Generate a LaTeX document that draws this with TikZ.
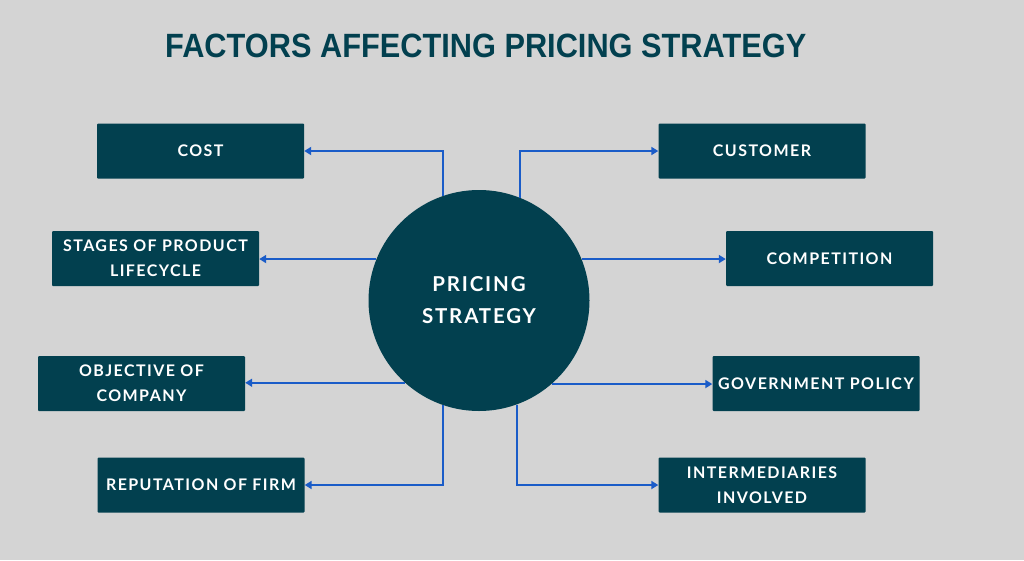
\documentclass[tikz,border=0pt]{standalone}
\usepackage{fontspec}
\usepackage{graphicx}
\usetikzlibrary{arrows.meta,calc}
\newfontfamily\boxfont{Lato}[LetterSpace=9]
\newfontfamily\titlefont{Liberation Sans}
\definecolor{bg}{HTML}{D4D4D4}
\definecolor{teal}{HTML}{02404F}
\definecolor{lineblue}{HTML}{1A5CC8}
\tikzset{
  factor/.style={rectangle, fill=teal, rounded corners=1pt, minimum width=207pt, minimum height=55pt,
    text=white, align=center, inner sep=0pt, font=\boxfont\bfseries\fontsize{16}{25}\selectfont},
  hub/.style={circle, fill=teal, minimum size=221pt, inner sep=0pt, text=white, align=center,
    font=\boxfont\bfseries\fontsize{20.5}{32}\selectfont},
  conn/.style={draw=lineblue, line width=2pt, -{Triangle[length=7pt,width=8pt]}},
}
\begin{document}
\begin{tikzpicture}[x=1pt,y=-1pt]
\fill[bg] (0,0) rectangle (1024,560);
\useasboundingbox (0,0) rectangle (1024,560);
\node[anchor=south west, inner sep=0pt, text=teal] (title) at (165,58.5)
  {\resizebox{641pt}{23.5pt}{\titlefont\bfseries FACTORS AFFECTING PRICING STRATEGY}};
\node[hub] (hub) at (479,300.5) {PRICING\\STRATEGY};
\node[factor] (cost) at (200.5,151) {COST};
\node[factor] (stages) at (155.5,258.5) {STAGES OF PRODUCT\\LIFECYCLE};
\node[factor] (obj) at (141.5,383.5) {OBJECTIVE OF\\COMPANY};
\node[factor] (rep) at (201,485) {REPUTATION OF FIRM};
\node[factor] (cust) at (762,151) {CUSTOMER};
\node[factor] (comp) at (829.5,258.5) {COMPETITION};
\node[factor] (gov) at (816,383.5) {GOVERNMENT POLICY};
\node[factor] (inter) at (762,485) {INTERMEDIARIES\\INVOLVED};
\draw[conn] (hub.109) |- (cost.east);
\draw[conn] (hub.158) -- (hub.158 -| stages.east);
\draw[conn] (hub.228.5) -- (hub.228.5 -| obj.east);
\draw[conn] (hub.251) |- (rep.east);
\draw[conn] (hub.68) |- (cust.west);
\draw[conn] (hub.22) -- (hub.22 -| comp.west);
\draw[conn] (hub.311.5) -- (hub.311.5 -| gov.west);
\draw[conn] (hub.290.8) |- (inter.west);
\end{tikzpicture}
\end{document}
